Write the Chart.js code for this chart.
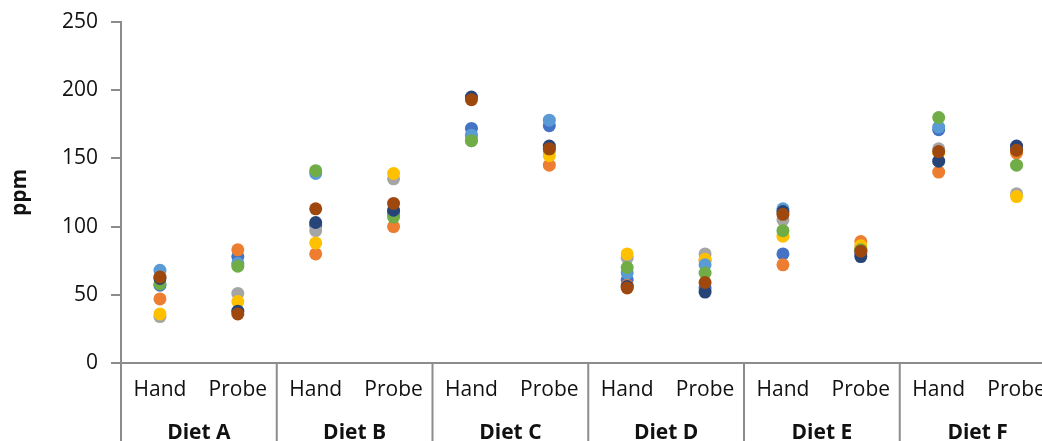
<!DOCTYPE html>
<html>
<head>
<meta charset="utf-8">
<script src="https://cdn.jsdelivr.net/npm/chart.js@4.4.1/dist/chart.umd.min.js"></script>
<style>
  html, body { margin: 0; padding: 0; background: #fff; overflow: hidden; }
  #wrap { width: 1062px; height: 441px; }
</style>
</head>
<body>
<div id="wrap"><canvas id="chart" width="1062" height="441"></canvas></div>
<script>
// categories
var methods = ['Hand', 'Probe', 'Hand', 'Probe', 'Hand', 'Probe', 'Hand', 'Probe', 'Hand', 'Probe', 'Hand', 'Probe'];
var diets = ['Diet A', 'Diet B', 'Diet C', 'Diet D', 'Diet E', 'Diet F'];
var yTicks = [0, 50, 100, 150, 200, 250];

// readings (ppm), one array per series, order: A hand, A probe, B hand, ... F probe
var series1 = [57, 78, 101, 110, 172, 174, 61, 55, 80, 80, 171, 158];
var series2 = [47, 83, 80, 100, 164, 145, 57, 75, 72, 89, 140, 154];
var series3 = [34, 51, 97, 135, 163, 155, 77, 80, 105, 84, 157, 124];
var series4 = [36, 45, 88, 139, 165, 152, 80, 76, 93, 86, 154, 122];
var series5 = [68, 73, 139, 110, 167, 178, 66, 72, 113, 82, 173, 157];
var series6 = [58, 71, 141, 107, 163, 157, 70, 66, 97, 83, 180, 145];
var series7 = [62, 38, 103, 112, 195, 159, 56, 52, 111, 78, 148, 159];
var series8 = [63, 36, 113, 117, 193, 157, 55, 59, 109, 82, 155, 156];

var allSeries = [series1, series2, series3, series4, series5, series6, series7, series8];
var colors = ['#4472C4', '#ED7D31', '#A5A5A5', '#FFC000', '#5B9BD5', '#70AD47', '#264478', '#9E480E'];

var axisColor = '#8c8c8c';
var textColor = '#111';
var font = "'Open Sans', 'Noto Sans', sans-serif";

// vertical separators between diet groups, below the plot
var groupLines = {
    id: 'groupLines',
    afterDraw: function(chart) {
        var x = chart.scales.x;
        var ctx = chart.ctx;
        var top = chart.chartArea.bottom;
        var bottom = chart.height;
        ctx.save();
        ctx.strokeStyle = axisColor;
        ctx.lineWidth = 2;
        for (var i = 0; i <= diets.length; i++) {
            var px;
            if (i === 0) px = x.left;
            else if (i === diets.length) px = x.right;
            else px = (x.getPixelForValue(2 * i - 1) + x.getPixelForValue(2 * i)) / 2;
            ctx.beginPath();
            ctx.moveTo(px, top);
            ctx.lineTo(px, bottom);
            ctx.stroke();
        }
        ctx.restore();
    }
};

var datasets = allSeries.map(function(values, i) {
    return {
        label: 'Series ' + (i + 1),
        data: values,
        xAxisID: 'x',
        showLine: false,
        backgroundColor: colors[i],
        borderColor: colors[i],
        borderWidth: 0,
        pointRadius: 6.5,
        pointHoverRadius: 6.5,
        order: allSeries.length - i
    };
});

new Chart(document.getElementById('chart'), {
    type: 'line',
    data: { labels: methods, datasets: datasets },
    options: {
        responsive: false,
        animation: false,
        layout: { padding: { top: 22, left: 0, right: 0, bottom: 0 } },
        plugins: { legend: { display: false }, tooltip: { enabled: false } },
        scales: {
            y: {
                min: 0,
                max: 250,
                afterBuildTicks: function(s) { s.ticks = yTicks.map(function(v) { return { value: v }; }); },
                afterFit: function(s) {
                    s.width = 121;
                    s.paddingTop = 0;
                    s.paddingBottom = 0;
                },
                grid: { drawOnChartArea: false, color: axisColor, lineWidth: 2, tickLength: 10 },
                border: { color: axisColor, width: 2 },
                ticks: { color: textColor, padding: 13, font: { family: font, size: 21 } },
                title: {
                    display: true,
                    text: 'ppm',
                    color: textColor,
                    padding: { top: 7, bottom: 0 },
                    font: { family: font, size: 21, weight: 'bold' }
                }
            },
            x: {
                type: 'category',
                position: 'bottom',
                offset: true,
                afterFit: function(s) { s.height = 45; },
                grid: { display: false, drawTicks: false, offset: true },
                border: { color: axisColor, width: 2 },
                ticks: { color: textColor, padding: 14, maxRotation: 0, autoSkip: false, font: { family: font, size: 21 } }
            },
            x2: {
                type: 'category',
                position: 'bottom',
                labels: diets,
                offset: true,
                afterFit: function(s) { s.height = 33; },
                grid: { display: false, drawTicks: false, offset: true },
                border: { display: false },
                ticks: { color: textColor, padding: 12, maxRotation: 0, autoSkip: false, font: { family: font, size: 21, weight: 'bold' } }
            }
        }
    },
    plugins: [groupLines]
});
</script>
</body>
</html>
